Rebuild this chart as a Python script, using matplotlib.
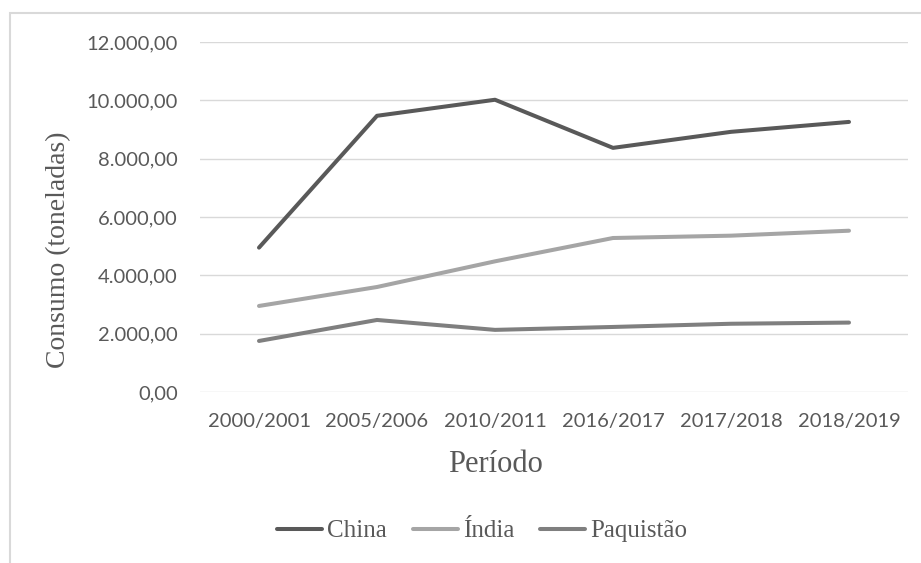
import matplotlib.pyplot as plt
from matplotlib.patches import Rectangle
from matplotlib.ticker import FuncFormatter

periodos = ["2000/2001", "2005/2006", "2010/2011", "2016/2017", "2017/2018", "2018/2019"]
china = [4950, 9470, 10020, 8370, 8920, 9260]
india = [2950, 3600, 4480, 5280, 5360, 5530]
paquistao = [1750, 2470, 2130, 2230, 2340, 2380]
y_ticks = [0, 2000, 4000, 6000, 8000, 10000, 12000]

W, H = 921, 563
fig = plt.figure(figsize=(W / 100, H / 100), dpi=100)

# outer chart frame (cropped at right and bottom in the original)
fig.patches.append(Rectangle((10 / W, -0.1), 1.2, 1 - 13 / H + 0.1, transform=fig.transFigure,
                             fill=False, edgecolor="#D9D9D9", linewidth=1.5))

# plot area: x 200..908 px, y 42..392 px
ax = fig.add_axes([200 / W, 1 - 392 / H, 708 / W, 350 / H])

x = range(len(periodos))
ax.plot(x, china, color="#595959", lw=2.9, label="China", solid_capstyle="round")
ax.plot(x, india, color="#A5A5A5", lw=2.9, label="Índia", solid_capstyle="round")
ax.plot(x, paquistao, color="#7F7F7F", lw=2.9, label="Paquistão", solid_capstyle="round")

ax.set_xlim(-0.5, len(periodos) - 0.5)
ax.set_ylim(0, 12000)
ax.set_yticks(y_ticks)
ax.set_xticks(list(x))
ax.set_xticklabels(periodos)

def fmt(v, pos):
    s = f"{v:,.2f}"
    return s.replace(",", "X").replace(".", ",").replace("X", ".")

ax.yaxis.set_major_formatter(FuncFormatter(fmt))
ax.grid(axis="y", color="#D9D9D9", lw=1)
ax.set_axisbelow(True)
for s in ax.spines.values():
    s.set_visible(False)
ax.tick_params(length=0, colors="#595959", labelsize=14.5)
ax.tick_params(axis="y", pad=16)
ax.tick_params(axis="x", pad=15)
for lab in ax.get_xticklabels() + ax.get_yticklabels():
    lab.set_family(["Lato", "DejaVu Sans"])

# axis titles, placed where the original chart puts them
serif = ["Liberation Serif", "DejaVu Serif"]
fig.text(59 / W, 1 - 250 / H, "Consumo (toneladas)", family=serif, fontsize=20, color="#595959",
         rotation=90, ha="center", va="center", rotation_mode="anchor")
fig.text(495 / W, 1 - 465 / H, "Período", family=serif, fontsize=22, color="#595959",
         ha="center", va="center")

leg = fig.legend(*ax.get_legend_handles_labels(), loc="center", bbox_to_anchor=(482 / W, 1 - 531 / H),
                 ncol=3, frameon=False, prop={"family": serif, "size": 18}, handlelength=1.8,
                 handletextpad=0.2, columnspacing=1.05, labelcolor="#595959")

fig.savefig("out.png", dpi=100)
